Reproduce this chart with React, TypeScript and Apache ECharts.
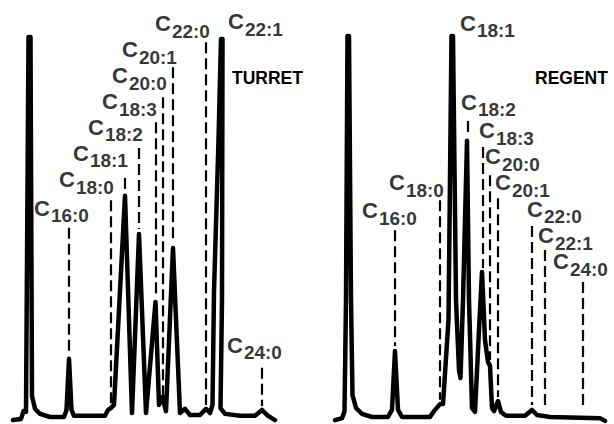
import React, { useEffect, useRef } from "react";
import * as echarts from "echarts";

// ---- Data (retention time in arbitrary units, detector response in % of full scale) ----
// TURRET trace vertices
const turretTime = [0, 0.8, 1.05, 1.3, 1.55, 1.75, 1.9, 2.2, 2.7, 3.7, 5.1, 5.35, 5.6, 5.85, 6.1, 9.2, 9.5, 9.8, 10.1, 11.2, 11.9, 12.6, 13.3, 14.25, 14.6, 14.95, 15.3, 16.0, 16.7, 17.2, 17.7, 18.7, 19.3, 19.7, 19.95, 20.1, 20.55, 20.8, 20.95, 20.9, 20.75, 21.2, 22.7, 24.2, 24.9, 25.4, 26.2];
const turretResponse = [1.0, 1.3, 3.3, 3.1, 99.2, 99.2, 7.2, 3.9, 2.6, 1.8, 1.8, 3.6, 16.7, 3.6, 2.1, 2.1, 3.6, 4.1, 4.9, 58.5, 2.8, 48.7, 2.8, 31.3, 4.9, 6.9, 3.3, 45.1, 2.8, 3.9, 2.3, 2.3, 3.9, 2.8, 4.9, 34.0, 72.8, 98.7, 98.7, 31.8, 4.1, 2.6, 2.1, 2.1, 3.6, 2.3, 1.0];

// REGENT trace vertices
const regentTime = [0, 0.7, 0.95, 1.1, 1.25, 1.4, 1.6, 1.75, 2.1, 2.7, 3.7, 5.3, 5.7, 6.0, 6.3, 6.7, 9.5, 9.9, 10.5, 10.8, 11.35, 11.65, 11.8, 12.1, 12.4, 12.55, 12.8, 13.2, 13.4, 13.7, 14.0, 14.4, 14.7, 15.0, 15.3, 15.5, 15.7, 15.9, 16.3, 16.6, 17.1, 19.0, 19.7, 20.2, 21.5, 26.5, 27.0];
const regentResponse = [1.0, 1.5, 3.3, 31.8, 99.5, 99.5, 31.8, 7.4, 4.1, 2.6, 1.8, 1.8, 3.6, 18.7, 3.6, 1.8, 1.8, 3.3, 5.1, 5.1, 26.7, 99.5, 99.5, 31.8, 13.8, 11.8, 31.8, 72.6, 31.8, 4.1, 3.1, 24.1, 39.0, 21.5, 15.9, 14.9, 4.1, 3.3, 5.9, 3.1, 2.1, 2.1, 3.6, 2.3, 1.8, 1.5, 0.8];

// Peak identifications (fatty acid chain : double bonds)
const turretPeaks = ["16:0", "18:0", "18:1", "18:2", "18:3", "20:0", "20:1", "22:0", "22:1", "24:0"];
const turretPeakTime = [5.6, 9.8, 11.2, 12.6, 14.3, 15.0, 16.0, 19.3, 20.85, 24.9];
const turretMarkTop = [50.3, 57.4, 63.1, 70.8, 77.4, 83.8, 91.5, 97.9, 98.7, 14.4];
const turretMarkBottom: (number | null)[] = [17.7, 4.4, 60.0, 50.0, 32.6, 7.4, 46.7, 4.9, null, 4.6];

const regentPeaks = ["16:0", "18:0", "18:1", "18:2", "18:3", "20:0", "20:1", "22:0", "22:1", "24:0"];
const regentPeakTime = [6.0, 10.5, 11.7, 13.3, 14.8, 15.5, 16.3, 19.7, 21.0, 24.8];
const regentMarkTop = [49.7, 57.4, 99.5, 77.7, 71.0, 63.8, 57.9, 50.8, 44.6, 36.4];
const regentMarkBottom: (number | null)[] = [20.0, 6.2, null, 74.9, 40.0, 16.4, 6.9, 4.9, 4.9, 4.9];

const sampleNames = ["TURRET", "REGENT"];

// ---- Layout (pixel offsets of each label from its marker top) ----
const turretLabelOffset = [[-35, -26], [-52, -27], [-52, -31], [-51, -27], [-54, -27], [-51, -28], [-51, -24], [-51, -25], [6.5, -24], [-35, -29]];
const regentLabelOffset = [[-33, -26], [-51, -24], [8, -19], [-7, -25], [-4, -23], [-5, -25], [-3, -22], [-5, -23], [-7, -21], [-30, -27]];

const FONT = "'Liberation Sans', Arial, sans-serif";
const TOP_PAD = 4.5;

function buildPanel(
  idx: number,
  time: number[],
  resp: number[],
  peaks: string[],
  peakTime: number[],
  markTop: number[],
  markBottom: (number | null)[],
  offsets: number[][]
) {
  const trace = {
    type: "line",
    xAxisIndex: idx,
    yAxisIndex: idx,
    data: time.map((t, i) => [t, resp[i]]),
    symbol: "none",
    clip: false,
    silent: true,
    z: 3,
    lineStyle: { color: "#000", width: 4.5, cap: "round", join: "round" },
    markLine: {
      silent: true,
      symbol: "none",
      label: { show: false },
      lineStyle: { color: "#000", width: 2.2, type: [11, 5], cap: "butt" },
      data: peaks
        .map((_, i) =>
          markBottom[i] == null
            ? null
            : [
                { coord: [peakTime[i], markTop[i]] },
                { coord: [peakTime[i], markBottom[i]] },
              ]
        )
        .filter((d) => d != null),
    },
  };
  const labels = {
    type: "scatter",
    xAxisIndex: idx,
    yAxisIndex: idx,
    silent: true,
    symbolSize: 1,
    itemStyle: { color: "rgba(0,0,0,0)" },
    z: 5,
    label: {
      show: true,
      position: "inside",
      align: "left",
      verticalAlign: "top",
      formatter: (p: any) => `{c|C}{s|${p.name}}`,
      rich: {
        c: { fontFamily: FONT, fontSize: 22, fontWeight: "bold", verticalAlign: "top", color: "#000" },
        s: { fontFamily: FONT, fontSize: 19, fontWeight: "bold", lineHeight: 28, verticalAlign: "bottom", color: "#000", padding: [0, 0, 0, 1] },
      },
    },
    data: peaks.map((name, i) => ({
      name,
      value: [peakTime[i], markTop[i]],
      label: { offset: [offsets[i][0], offsets[i][1] - TOP_PAD] },
    })),
  };
  return [trace, labels];
}

export default function App() {
  const ref = useRef<HTMLDivElement>(null);
  useEffect(() => {
    document.body.style.margin = "0";
    if (!ref.current) return;
    const chart = echarts.init(ref.current, null, { renderer: "svg" });
    const axisX = (idx: number) => ({ type: "value", gridIndex: idx, min: 0, max: 27, show: false });
    const axisY = (idx: number) => ({ type: "value", gridIndex: idx, min: 0, max: 100, show: false });
    chart.setOption({
      animation: false,
      backgroundColor: "#fff",
      title: [
        { text: sampleNames[0], left: 232, top: 69, padding: 0, textStyle: { fontFamily: FONT, fontSize: 17.5, fontWeight: "bold", color: "#000" } },
        { text: sampleNames[1], left: 535, top: 69, padding: 0, textStyle: { fontFamily: FONT, fontSize: 17.5, fontWeight: "bold", color: "#000" } },
      ],
      grid: [
        { left: 13, top: 34, width: 270, height: 390 },
        { left: 335, top: 34, width: 270, height: 390 },
      ],
      xAxis: [axisX(0), axisX(1)],
      yAxis: [axisY(0), axisY(1)],
      series: [
        ...buildPanel(0, turretTime, turretResponse, turretPeaks, turretPeakTime, turretMarkTop, turretMarkBottom, turretLabelOffset),
        ...buildPanel(1, regentTime, regentResponse, regentPeaks, regentPeakTime, regentMarkTop, regentMarkBottom, regentLabelOffset),
      ],
    });
    return () => chart.dispose();
  }, []);
  return (
    <div
      ref={ref}
      style={{ position: "fixed", left: 0, top: 0, width: 614, height: 424, background: "#fff" }}
    />
  );
}
